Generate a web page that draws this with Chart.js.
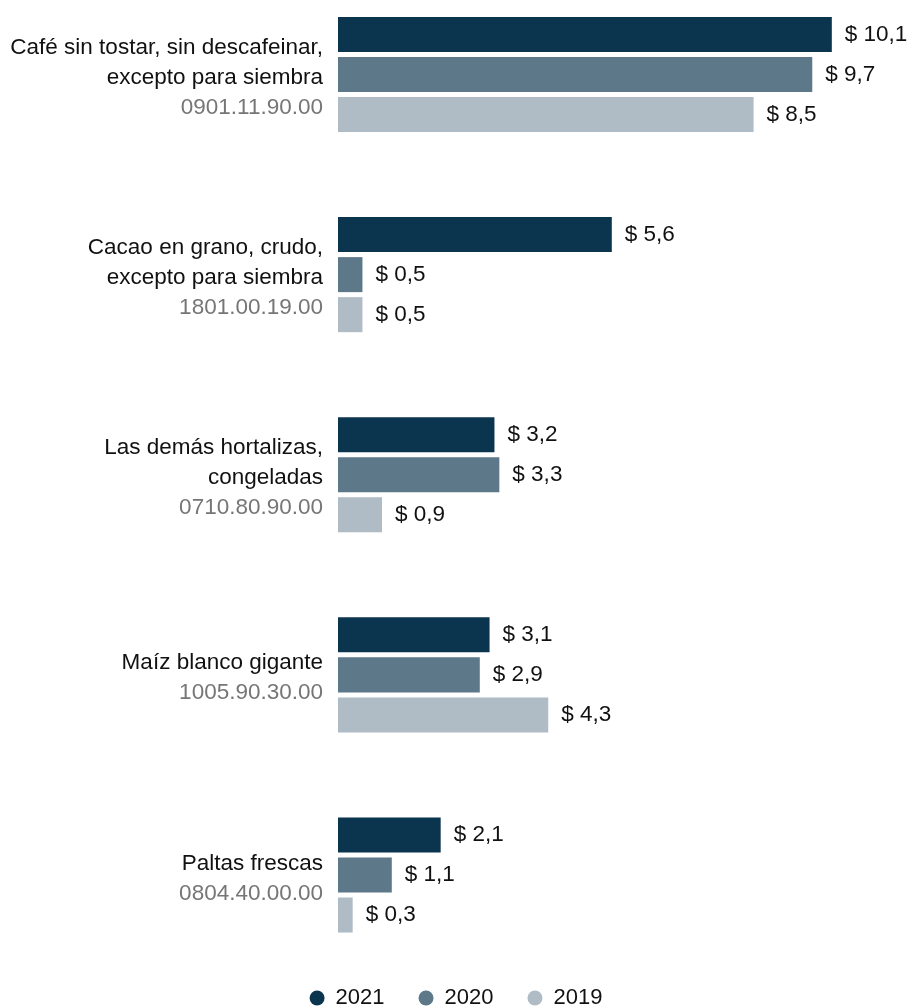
<!DOCTYPE html>
<html lang="es">
<head>
<meta charset="utf-8">
<title>Exportaciones por producto</title>
<script src="https://cdn.jsdelivr.net/npm/chart.js@4.4.1/dist/chart.umd.min.js"></script>
<style>
  html, body { margin: 0; padding: 0; background: #fff; overflow: hidden; }
  #container { width: 912px; height: 1008px; position: relative; }
</style>
</head>
<body>
<div id="container"><canvas id="barChart"></canvas></div>
<script>
// datos (millones de US$)
const productNames = [
  ['Café sin tostar, sin descafeinar,', 'excepto para siembra'],
  ['Cacao en grano, crudo,', 'excepto para siembra'],
  ['Las demás hortalizas,', 'congeladas'],
  ['Maíz blanco gigante'],
  ['Paltas frescas']
];
const productCodes = ['0901.11.90.00', '1801.00.19.00', '0710.80.90.00', '1005.90.30.00', '0804.40.00.00'];
const years = ['2021', '2020', '2019'];
const values2021 = [10.1, 5.6, 3.2, 3.1, 2.1];
const values2020 = [9.7, 0.5, 3.3, 2.9, 1.1];
const values2019 = [8.5, 0.5, 0.9, 4.3, 0.3];
const yearColors = ['#0b344f', '#5d7889', '#afbcc6'];

const FONT_FAMILY = '"Liberation Sans", Arial, Helvetica, sans-serif';
const TEXT_FONT = '22.5px ' + FONT_FAMILY;

// nombre del producto + código a la izquierda de cada grupo
const productLabels = {
    id: 'productLabels',
    afterDraw(chart) {
        const ctx = chart.ctx;
        const yScale = chart.scales.y;
        const x = chart.chartArea.left - 15;
        ctx.save();
        ctx.font = TEXT_FONT;
        ctx.textAlign = 'right';
        ctx.textBaseline = 'alphabetic';
        productNames.forEach((name, i) => {
            const lines = name.concat(productCodes[i]);
            const center = yScale.getPixelForValue(i);
            lines.forEach((line, j) => {
                ctx.fillStyle = j === lines.length - 1 ? '#767676' : '#111111';
                ctx.fillText(line, x, center + 9.5 + (j - (lines.length - 1) / 2) * 30);
            });
        });
        ctx.restore();
    }
};

// "$ 10,1" al final de cada barra
const valueLabels = {
    id: 'valueLabels',
    afterDatasetsDraw(chart) {
        const ctx = chart.ctx;
        ctx.save();
        ctx.font = TEXT_FONT;
        ctx.fillStyle = '#111111';
        ctx.textAlign = 'left';
        ctx.textBaseline = 'middle';
        chart.data.datasets.forEach((ds, d) => {
            chart.getDatasetMeta(d).data.forEach((bar, i) => {
                const txt = '$ ' + ds.data[i].toFixed(1).replace('.', ',');
                ctx.fillText(txt, bar.x + 13, bar.y);
            });
        });
        ctx.restore();
    }
};

const seriesValues = [values2021, values2020, values2019];
const datasets = years.map((year, k) => ({
    label: year,
    data: seriesValues[k],
    backgroundColor: yearColors[k],
    borderWidth: 0,
    categoryPercentage: 0.6,
    barPercentage: 0.875,
    clip: false
}));

Chart.defaults.font.family = FONT_FAMILY;

const ctx = document.getElementById('barChart').getContext('2d');
const barChart = new Chart(ctx, {
    type: 'bar',
    data: { labels: productCodes, datasets },
    options: {
        indexAxis: 'y',
        responsive: true,
        maintainAspectRatio: false,
        animation: false,
        layout: { padding: { left: 0, right: 0, top: 74.5, bottom: -11 } },
        scales: {
            x: {
                min: 0,
                max: 11.74,
                grid: { display: false },
                border: { display: false },
                ticks: { display: false },
                afterFit: (scale) => { scale.height = 78; }
            },
            y: {
                offset: false,
                grid: { display: false },
                border: { display: false },
                ticks: { display: false },
                afterFit: (scale) => { scale.width = 338; }
            }
        },
        plugins: {
            legend: {
                position: 'bottom',
                labels: {
                    usePointStyle: true,
                    pointStyle: 'circle',
                    boxHeight: 10.6,
                    pointStyleWidth: 15,
                    padding: 34,
                    color: '#111111',
                    font: { size: 22, family: FONT_FAMILY }
                }
            },
            tooltip: { enabled: false }
        }
    },
    plugins: [productLabels, valueLabels]
});
</script>
</body>
</html>
